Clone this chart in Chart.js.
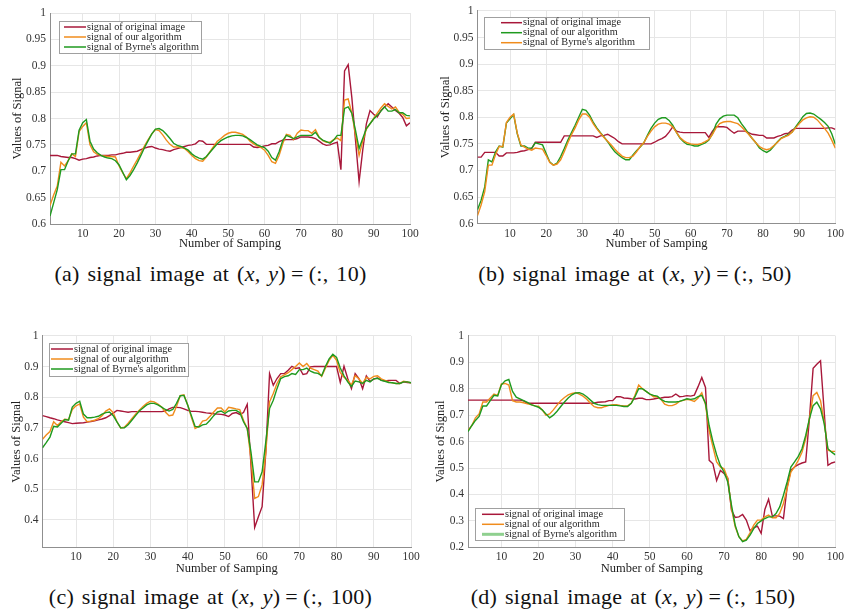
<!DOCTYPE html>
<html>
<head>
<meta charset="utf-8">
<script src="https://cdn.jsdelivr.net/npm/chart.js@4.4.1/dist/chart.umd.min.js"></script>
<style>
  html, body { margin: 0; padding: 0; background: #fff; }
  body { width: 847px; height: 614px; position: relative; overflow: hidden; }
  .panel { position: absolute; }
  .cap { position: absolute; text-align: center; font-family: "Liberation Serif", serif; font-size: 22px;
         line-height: 26px; color: #111; white-space: nowrap; word-spacing: 2px; letter-spacing: 0.3px; }
  .cap .eq { padding: 0 5px; }
</style>
</head>
<body>
<div class="panel" style="left:0;top:0;width:423px;height:252px"><canvas id="pa"></canvas></div>
<div class="panel" style="left:423px;top:0;width:424px;height:252px"><canvas id="pb"></canvas></div>
<div class="panel" style="left:0;top:325px;width:423px;height:252px"><canvas id="pc"></canvas></div>
<div class="panel" style="left:423px;top:325px;width:424px;height:252px"><canvas id="pd"></canvas></div>

<div class="cap" style="left:0;width:421px;top:261px">(a) signal image at (<i>x, y</i>)<span class="eq">=</span>(:, 10)</div>
<div class="cap" style="left:423px;width:424px;top:261px">(b) signal image at (<i>x, y</i>)<span class="eq">=</span>(:, 50)</div>
<div class="cap" style="left:0;width:421px;top:584px">(c) signal image at (<i>x, y</i>)<span class="eq">=</span>(:, 100)</div>
<div class="cap" style="left:423px;width:420px;top:584px">(d) signal image at (<i>x, y</i>)<span class="eq">=</span>(:, 150)</div>

<script>
// --- data -------------------------------------------------------------
const xTicks = [10, 20, 30, 40, 50, 60, 70, 80, 90, 100];
const yTicksAB = [0.6, 0.65, 0.7, 0.75, 0.8, 0.85, 0.9, 0.95, 1];
const yTicksC = [0.4, 0.5, 0.6, 0.7, 0.8, 0.9, 1];
const yTicksD = [0.2, 0.3, 0.4, 0.5, 0.6, 0.7, 0.8, 0.9, 1];

const labOrig = 'signal of original image';
const labOur = 'signal of our algorithm';
const labByrne = "signal of Byrne's algorithm";

// (a) column 10
const aOrig = [
  0.730,0.730,0.730,0.728,0.727,0.726,0.726,0.724,0.721,0.723,
  0.724,0.726,0.727,0.729,0.730,0.730,0.730,0.731,0.731,0.733,
  0.734,0.736,0.736,0.737,0.738,0.741,0.744,0.746,0.747,0.744,
  0.742,0.741,0.739,0.738,0.741,0.743,0.745,0.747,0.749,0.750,
  0.752,0.758,0.757,0.751,0.751,0.751,0.751,0.751,0.751,0.751,
  0.751,0.751,0.751,0.751,0.751,0.751,0.746,0.745,0.746,0.748,
  0.749,0.752,0.752,0.756,0.759,0.760,0.760,0.760,0.762,0.765,
  0.765,0.765,0.764,0.762,0.757,0.752,0.749,0.750,0.753,0.755,
  0.703,0.890,0.902,0.840,0.760,0.680,0.740,0.790,0.815,0.808,
  0.803,0.815,0.822,0.828,0.822,0.815,0.810,0.802,0.786,0.792];
const aOur = [
  0.635,0.655,0.672,0.717,0.710,0.720,0.733,0.728,0.775,0.785,
  0.792,0.750,0.737,0.732,0.730,0.729,0.728,0.728,0.727,0.710,
  0.697,0.686,0.697,0.710,0.722,0.735,0.748,0.760,0.771,0.779,
  0.777,0.769,0.759,0.751,0.746,0.746,0.745,0.743,0.737,0.730,
  0.724,0.720,0.719,0.727,0.737,0.747,0.757,0.762,0.768,0.772,
  0.774,0.774,0.772,0.770,0.765,0.757,0.752,0.748,0.745,0.740,
  0.730,0.718,0.715,0.730,0.752,0.770,0.768,0.760,0.772,0.778,
  0.777,0.777,0.772,0.779,0.765,0.758,0.755,0.755,0.760,0.763,
  0.758,0.835,0.837,0.810,0.770,0.730,0.757,0.780,0.790,0.800,
  0.810,0.820,0.828,0.823,0.818,0.822,0.812,0.808,0.800,0.801];
const aByrne = [
  0.615,0.640,0.665,0.703,0.703,0.720,0.733,0.733,0.778,0.792,
  0.798,0.757,0.742,0.735,0.730,0.727,0.725,0.724,0.720,0.712,
  0.698,0.684,0.692,0.703,0.716,0.730,0.745,0.758,0.771,0.780,
  0.781,0.777,0.770,0.762,0.753,0.749,0.747,0.744,0.740,0.733,
  0.728,0.725,0.723,0.728,0.736,0.744,0.752,0.758,0.762,0.765,
  0.767,0.768,0.768,0.767,0.764,0.760,0.755,0.750,0.747,0.745,
  0.738,0.726,0.721,0.737,0.758,0.768,0.765,0.762,0.765,0.768,
  0.768,0.768,0.768,0.774,0.764,0.759,0.756,0.753,0.759,0.768,
  0.768,0.819,0.822,0.810,0.778,0.743,0.762,0.781,0.790,0.799,
  0.806,0.814,0.822,0.814,0.814,0.817,0.811,0.811,0.806,0.805];

// (b) column 50
const bOrig = [
  0.725,0.725,0.734,0.734,0.734,0.734,0.727,0.727,0.733,0.733,
  0.733,0.734,0.736,0.737,0.739,0.741,0.753,0.753,0.753,0.753,
  0.753,0.753,0.753,0.753,0.765,0.765,0.765,0.765,0.765,0.765,
  0.765,0.765,0.765,0.762,0.765,0.766,0.768,0.764,0.760,0.754,
  0.750,0.750,0.750,0.750,0.750,0.750,0.750,0.750,0.750,0.753,
  0.757,0.760,0.764,0.772,0.782,0.774,0.772,0.771,0.771,0.771,
  0.771,0.771,0.771,0.771,0.762,0.774,0.782,0.782,0.782,0.781,
  0.775,0.770,0.774,0.774,0.774,0.771,0.768,0.767,0.766,0.766,
  0.761,0.761,0.761,0.764,0.766,0.769,0.770,0.776,0.779,0.779,
  0.779,0.779,0.779,0.779,0.779,0.779,0.779,0.780,0.780,0.777];
const bOur = [
  0.626,0.644,0.669,0.720,0.716,0.735,0.746,0.744,0.789,0.797,
  0.805,0.769,0.746,0.746,0.742,0.742,0.752,0.750,0.748,0.732,
  0.716,0.710,0.714,0.726,0.741,0.757,0.771,0.785,0.800,0.815,
  0.813,0.804,0.791,0.780,0.771,0.763,0.754,0.744,0.735,0.729,
  0.724,0.720,0.720,0.729,0.737,0.744,0.752,0.766,0.779,0.789,
  0.796,0.799,0.799,0.794,0.785,0.772,0.761,0.754,0.749,0.748,
  0.746,0.746,0.749,0.752,0.757,0.769,0.787,0.797,0.802,0.804,
  0.804,0.804,0.799,0.788,0.779,0.769,0.760,0.752,0.742,0.737,
  0.734,0.738,0.746,0.754,0.761,0.764,0.768,0.772,0.782,0.791,
  0.801,0.807,0.808,0.806,0.801,0.796,0.790,0.783,0.769,0.749];
const bByrne = [
  0.615,0.635,0.660,0.710,0.710,0.730,0.745,0.745,0.790,0.800,
  0.806,0.770,0.748,0.744,0.740,0.738,0.742,0.741,0.740,0.728,
  0.715,0.710,0.712,0.720,0.735,0.752,0.767,0.780,0.795,0.806,
  0.806,0.800,0.788,0.778,0.770,0.762,0.755,0.748,0.740,0.733,
  0.727,0.724,0.724,0.727,0.735,0.745,0.752,0.764,0.774,0.782,
  0.787,0.789,0.789,0.787,0.782,0.772,0.762,0.756,0.752,0.750,
  0.749,0.749,0.751,0.754,0.758,0.768,0.780,0.788,0.791,0.792,
  0.792,0.790,0.788,0.782,0.775,0.768,0.760,0.752,0.745,0.741,
  0.739,0.741,0.747,0.753,0.760,0.763,0.766,0.772,0.780,0.788,
  0.795,0.799,0.801,0.800,0.795,0.787,0.779,0.770,0.757,0.742];

// (c) column 100
const cOrig = [
  0.740,0.737,0.733,0.730,0.726,0.723,0.720,0.717,0.714,0.715,
  0.716,0.717,0.719,0.721,0.723,0.726,0.729,0.733,0.740,0.748,
  0.757,0.755,0.753,0.751,0.753,0.753,0.753,0.753,0.753,0.753,
  0.753,0.753,0.753,0.755,0.762,0.767,0.767,0.766,0.762,0.757,
  0.754,0.754,0.753,0.751,0.749,0.748,0.746,0.745,0.744,0.742,
  0.737,0.747,0.750,0.744,0.750,0.777,0.580,0.375,0.410,0.443,
  0.622,0.877,0.839,0.861,0.877,0.877,0.888,0.901,0.894,0.896,
  0.874,0.877,0.899,0.900,0.900,0.900,0.900,0.900,0.900,0.900,
  0.848,0.901,0.861,0.828,0.877,0.861,0.828,0.870,0.852,0.859,
  0.863,0.856,0.853,0.855,0.855,0.855,0.845,0.850,0.848,0.847];
const cOur = [
  0.663,0.677,0.688,0.720,0.708,0.720,0.728,0.727,0.760,0.772,
  0.778,0.735,0.720,0.722,0.725,0.730,0.740,0.755,0.762,0.750,
  0.720,0.700,0.702,0.715,0.730,0.745,0.758,0.770,0.780,0.787,
  0.785,0.778,0.768,0.752,0.740,0.742,0.770,0.805,0.808,0.775,
  0.735,0.698,0.705,0.722,0.725,0.738,0.752,0.765,0.765,0.752,
  0.767,0.765,0.762,0.760,0.725,0.698,0.600,0.470,0.476,0.514,
  0.622,0.785,0.812,0.845,0.867,0.873,0.880,0.890,0.900,0.912,
  0.900,0.910,0.895,0.890,0.885,0.868,0.895,0.920,0.937,0.920,
  0.880,0.865,0.855,0.840,0.870,0.860,0.845,0.865,0.860,0.868,
  0.870,0.860,0.855,0.850,0.847,0.845,0.845,0.852,0.850,0.847];
const cByrne = [
  0.635,0.652,0.670,0.705,0.703,0.715,0.727,0.725,0.768,0.780,
  0.787,0.745,0.733,0.733,0.735,0.738,0.745,0.750,0.752,0.740,
  0.720,0.700,0.700,0.710,0.725,0.740,0.755,0.765,0.775,0.780,
  0.780,0.775,0.768,0.760,0.755,0.760,0.780,0.805,0.806,0.775,
  0.740,0.705,0.703,0.710,0.712,0.725,0.740,0.752,0.755,0.747,
  0.755,0.757,0.757,0.750,0.720,0.698,0.622,0.524,0.524,0.557,
  0.655,0.763,0.790,0.828,0.861,0.867,0.870,0.877,0.874,0.890,
  0.890,0.895,0.885,0.880,0.878,0.870,0.900,0.925,0.940,0.930,
  0.895,0.870,0.850,0.835,0.853,0.850,0.845,0.855,0.850,0.860,
  0.862,0.855,0.852,0.848,0.847,0.845,0.845,0.850,0.850,0.847];

// (d) column 150
const dOrig = [
  0.757,0.757,0.757,0.757,0.757,0.757,0.757,0.757,0.757,0.757,
  0.757,0.757,0.757,0.757,0.757,0.754,0.745,0.745,0.745,0.745,
  0.745,0.745,0.745,0.745,0.745,0.745,0.745,0.745,0.745,0.745,
  0.745,0.745,0.745,0.745,0.746,0.749,0.750,0.751,0.755,0.755,
  0.770,0.770,0.765,0.764,0.762,0.761,0.764,0.764,0.759,0.759,
  0.761,0.764,0.765,0.768,0.768,0.770,0.780,0.770,0.771,0.774,
  0.772,0.776,0.808,0.843,0.805,0.529,0.516,0.453,0.491,0.479,
  0.462,0.340,0.313,0.315,0.324,0.303,0.263,0.274,0.280,0.253,
  0.343,0.382,0.319,0.319,0.318,0.309,0.428,0.491,0.504,0.513,
  0.519,0.523,0.686,0.877,0.893,0.906,0.711,0.510,0.519,0.523];
const dOur = [
  0.642,0.660,0.690,0.705,0.750,0.750,0.765,0.780,0.775,0.818,
  0.820,0.814,0.755,0.750,0.750,0.747,0.743,0.740,0.735,0.734,
  0.720,0.700,0.705,0.720,0.738,0.755,0.767,0.777,0.782,0.785,
  0.780,0.772,0.760,0.745,0.732,0.728,0.728,0.733,0.737,0.740,
  0.740,0.737,0.735,0.735,0.745,0.775,0.814,0.800,0.790,0.780,
  0.770,0.770,0.760,0.742,0.736,0.736,0.742,0.752,0.756,0.760,
  0.757,0.752,0.765,0.785,0.740,0.640,0.580,0.523,0.504,0.497,
  0.460,0.347,0.278,0.240,0.224,0.230,0.255,0.284,0.303,0.303,
  0.315,0.322,0.312,0.312,0.328,0.366,0.422,0.485,0.504,0.529,
  0.560,0.610,0.686,0.774,0.786,0.755,0.673,0.567,0.563,0.563];
const dByrne = [
  0.638,0.660,0.680,0.695,0.735,0.735,0.755,0.775,0.773,0.815,
  0.830,0.835,0.790,0.768,0.762,0.755,0.748,0.740,0.735,0.730,
  0.720,0.705,0.690,0.700,0.715,0.733,0.750,0.765,0.777,0.784,
  0.785,0.780,0.770,0.757,0.745,0.740,0.737,0.737,0.737,0.737,
  0.737,0.735,0.733,0.733,0.745,0.770,0.800,0.800,0.790,0.780,
  0.775,0.772,0.760,0.752,0.750,0.750,0.750,0.752,0.757,0.762,
  0.760,0.762,0.770,0.775,0.745,0.660,0.600,0.550,0.510,0.485,
  0.447,0.360,0.284,0.240,0.221,0.227,0.246,0.271,0.290,0.300,
  0.309,0.315,0.315,0.328,0.353,0.397,0.447,0.504,0.523,0.544,
  0.573,0.623,0.686,0.736,0.749,0.724,0.667,0.573,0.560,0.550];

// --- style -------------------------------------------------------------
const RED = '#a8183a', ORANGE = '#f08c1c', GREEN = '#1f9a1f';
const GRID = '#e6e6e6', AXIS = '#8f8f8f', TXT = '#333';
const SERIF = '"Liberation Serif", "Times New Roman", serif';

Chart.defaults.font.family = SERIF;
Chart.defaults.color = TXT;

// legend drawn inside the axes as a MATLAB style box
const boxLegend = {
  id: 'boxLegend',
  afterDatasetsDraw(chart, args, o) {
    if (!o || o.x == null) return;
    const ctx = chart.ctx;
    ctx.save();
    ctx.fillStyle = '#fff';
    ctx.fillRect(o.x, o.y, o.w, o.h);
    ctx.strokeStyle = '#a0a0a0';
    ctx.lineWidth = 1;
    ctx.strokeRect(Math.round(o.x) + 0.5, Math.round(o.y) + 0.5, o.w, o.h);
    ctx.font = '10.3px ' + SERIF;
    ctx.textBaseline = 'middle';
    chart.data.datasets.forEach((ds, i) => {
      const y = o.y + o.row0 + i * o.gap;
      ctx.strokeStyle = (o.swatch && o.swatch[i]) || ds.borderColor;
      ctx.lineWidth = (o.swatchW && o.swatchW[i]) || 1.5;
      ctx.beginPath();
      ctx.moveTo(o.x + o.l1, y);
      ctx.lineTo(o.x + o.l2, y);
      ctx.stroke();
      ctx.fillStyle = '#262626';
      ctx.fillText(ds.label, o.x + o.l2 + 1, y);
    });
    ctx.restore();
  }
};

function fmt(v) { return String(+v.toFixed(2)); }

function panel(id, series, g) {
  return new Chart(document.getElementById(id), {
    type: 'line',
    data: {
      datasets: series.map((s, k) => ({
        label: s[0],
        data: s[1].map((v, i) => ({ x: i + 1, y: v })),
        borderColor: s[2],
        backgroundColor: s[2],
        borderWidth: 1.4,
        pointRadius: 0,
        tension: 0,
        fill: false,
        order: 3 - k
      }))
    },
    options: {
      animation: false,
      responsive: true,
      maintainAspectRatio: false,
      layout: { padding: { left: 0, top: g.top, right: g.right, bottom: 0 } },
      plugins: { legend: { display: false }, tooltip: { enabled: false }, boxLegend: g.legend },
      scales: {
        x: {
          type: 'linear', min: 1, max: 100,
          afterBuildTicks: s => { s.ticks = xTicks.map(v => ({ value: v })); },
          afterFit: s => { s.height = g.xh; },
          grid: { color: GRID, drawTicks: false },
          border: { color: AXIS },
          ticks: { padding: 3, autoSkip: false, maxRotation: 0, font: { size: 11.5 }, color: TXT },
          title: { display: true, text: 'Number of Samping', font: { size: 12.5 }, color: '#222', padding: { top: 0, bottom: 1 } }
        },
        y: {
          type: 'linear', min: g.ymin, max: 1,
          afterBuildTicks: s => { s.ticks = g.yTicks.map(v => ({ value: v })); },
          afterFit: s => { s.width = g.yw; },
          grid: { color: GRID, drawTicks: false },
          border: { color: AXIS },
          ticks: { padding: 4, autoSkip: false, font: { size: 11.5 }, color: TXT, callback: fmt },
          title: { display: true, text: 'Values of Signal', font: { size: 12.5 }, color: '#222', padding: { top: g.ytp, bottom: 0 } }
        }
      }
    },
    plugins: [boxLegend]
  });
}

panel('pa', [[labOrig, aOrig, RED], [labOur, aOur, ORANGE], [labByrne, aByrne, GREEN]], {
  top: 13, right: 13, xh: 28, yw: 50, ymin: 0.6, yTicks: yTicksAB, ytp: 10.5,
  legend: { x: 59, y: 21, w: 142, h: 32, row0: 6, gap: 10, l1: 5, l2: 27 }
});
panel('pb', [[labOrig, bOrig, RED], [labOur, bOur, GREEN], [labByrne, bByrne, ORANGE]], {
  top: 10.3, right: 10.5, xh: 28.4, yw: 54.5, ymin: 0.6, yTicks: yTicksAB, ytp: 15,
  legend: { x: 61, y: 17, w: 165, h: 32, row0: 5.7, gap: 10, l1: 17, l2: 38 }
});
panel('pc', [[labOrig, cOrig, RED], [labOur, cOur, ORANGE], [labByrne, cByrne, GREEN]], {
  top: 10.5, right: 12, xh: 29.5, yw: 42.5, ymin: 0.31, yTicks: yTicksC, ytp: 9.2,
  legend: { x: 49, y: 18, w: 139, h: 33, row0: 6, gap: 10, l1: 2, l2: 24 }
});
panel('pd', [[labOrig, dOrig, RED], [labOur, dOur, ORANGE], [labByrne, dByrne, GREEN]], {
  top: 10, right: 9.7, xh: 29.7, yw: 45, ymin: 0.2, yTicks: yTicksD, ytp: 10.2,
  legend: { x: 52, y: 183, w: 149, h: 32, row0: 6.3, gap: 10, l1: 7, l2: 29,
            swatch: [null, null, '#8fd08f'], swatchW: [null, null, 3] }
});
</script>
</body>
</html>
